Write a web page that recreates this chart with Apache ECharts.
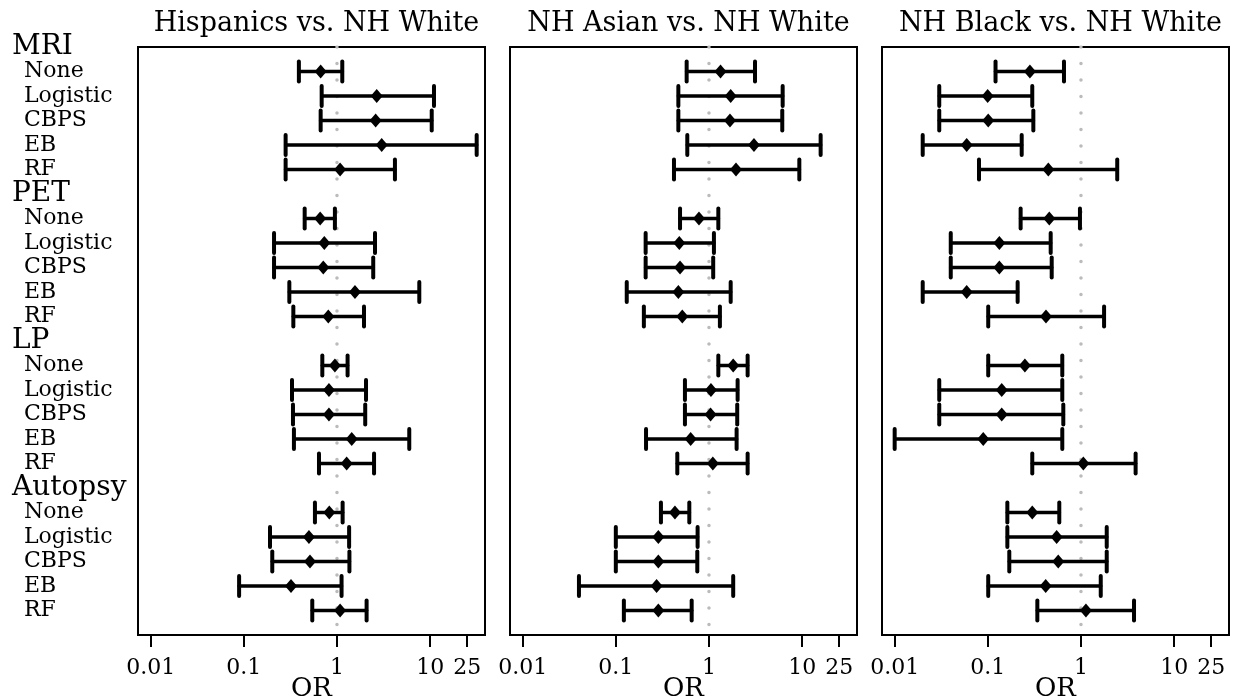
<!DOCTYPE html>
<html>
<head>
<meta charset="utf-8">
<script src="https://cdn.jsdelivr.net/npm/echarts@6/dist/echarts.min.js"></script>
<style>html,body{margin:0;padding:0;background:#fff}#c{width:1233px;height:698px}</style>
</head>
<body>
<div id="c"></div>
<script>
var groups = ['MRI', 'PET', 'LP', 'Autopsy'];
var methods = ['None', 'Logistic', 'CBPS', 'EB', 'RF'];
var panelTitles = ['Hispanics vs. NH White', 'NH Asian vs. NH White', 'NH Black vs. NH White'];
var tickValues = [0.01, 0.1, 1, 10, 25];
var tickLabels = ['0.01', '0.1', '1', '10', '25'];
var refValue = 1;

// order: MRI(None,Logistic,CBPS,EB,RF), PET(...), LP(...), Autopsy(...)
var hispLow = [0.39, 0.685, 0.668, 0.281, 0.281,  0.45, 0.211, 0.211, 0.308, 0.34,  0.696, 0.329, 0.337, 0.345, 0.641,  0.58, 0.191, 0.202, 0.089, 0.543];
var hispEst = [0.668, 2.67, 2.60, 3.02, 1.08,  0.66, 0.731, 0.713, 1.56, 0.807,  0.95, 0.82, 0.82, 1.44, 1.27,  0.827, 0.50, 0.513, 0.321, 1.08];
var hispUp  = [1.14, 11.0, 10.4, 31.6, 4.19,  0.95, 2.56, 2.45, 7.65, 1.95,  1.30, 2.05, 2.01, 5.97, 2.50,  1.15, 1.35, 1.36, 1.12, 2.08];

var asianLow = [0.576, 0.469, 0.469, 0.585, 0.421,  0.489, 0.209, 0.209, 0.131, 0.20,  1.26, 0.552, 0.552, 0.211, 0.457,  0.305, 0.10, 0.10, 0.0402, 0.122];
var asianEst = [1.33, 1.71, 1.68, 3.04, 1.95,  0.781, 0.48, 0.489, 0.469, 0.517,  1.82, 1.05, 1.04, 0.636, 1.10,  0.431, 0.286, 0.286, 0.274, 0.286];
var asianUp  = [3.12, 6.18, 6.12, 15.8, 9.33,  1.26, 1.13, 1.11, 1.71, 1.31,  2.60, 2.03, 2.01, 1.98, 2.60,  0.615, 0.755, 0.749, 1.82, 0.652];

var blackLow = [0.121, 0.0301, 0.0301, 0.020, 0.0804,  0.225, 0.040, 0.040, 0.020, 0.101,  0.101, 0.0301, 0.0301, 0.010, 0.30,  0.162, 0.162, 0.17, 0.101, 0.34];
var blackEst = [0.283, 0.0996, 0.101, 0.0593, 0.446,  0.457, 0.133, 0.133, 0.0593, 0.421,  0.25, 0.141, 0.141, 0.0893, 1.06,  0.30, 0.548, 0.57, 0.418, 1.13];
var blackUp  = [0.657, 0.30, 0.308, 0.231, 2.45,  0.975, 0.473, 0.485, 0.209, 1.77,  0.63, 0.63, 0.646, 0.63, 3.86,  0.585, 1.89, 1.89, 1.63, 3.71];

var FONT = 'DejaVu Serif';

// row labels: header then methods
var rowLabels = [];
var rowIsHeader = [];
groups.forEach(function (g) {
  rowLabels.push(g); rowIsHeader.push(true);
  methods.forEach(function (m) { rowLabels.push(m); rowIsHeader.push(false); });
});
function rowOf(k) { // k: index 0..19 in data arrays
  return Math.floor(k / methods.length) * (methods.length + 1) + 1 + (k % methods.length);
}

var panels = [[hispLow, hispEst, hispUp], [asianLow, asianEst, asianUp], [blackLow, blackEst, blackUp]];
var lefts = [138, 510, 882];
var W = 347, TOP = 47, H = 588;
var xmin = Math.pow(10, -2.136), xmax = Math.pow(10, 1.589);

var option = {
  animation: false,
  backgroundColor: '#fff',
  title: [], grid: [], xAxis: [], yAxis: [], series: []
};

function labelFor(v) {
  for (var j = 0; j < tickValues.length; j++) if (Math.abs(tickValues[j] - v) / tickValues[j] < 1e-6) return tickLabels[j];
  return '';
}
function baseY(gi) {
  return {
    type: 'value', gridIndex: gi, position: 'left', offset: 0, inverse: true, min: 0, max: 24, interval: 1,
    axisLine: { show: false }, axisTick: { show: false }, splitLine: { show: false }
  };
}

panels.forEach(function (p, pi) {
  option.title.push({
    text: panelTitles[pi], left: lefts[pi] + W / 2, top: 5, textAlign: 'center',
    textStyle: { fontFamily: FONT, fontSize: 27, fontWeight: 'normal', color: '#000' }
  });
  option.grid.push({
    left: lefts[pi], top: TOP, width: W, height: H, show: true, borderColor: '#000', borderWidth: 2,
    backgroundColor: 'transparent', containLabel: false, outerBoundsMode: 'none'
  });
  option.xAxis.push({
    type: 'log', logBase: 10, gridIndex: pi, min: xmin, max: xmax, position: 'bottom',
    name: 'OR', nameLocation: 'middle', nameGap: 41, nameMoveOverlap: false,
    nameTextStyle: { fontFamily: FONT, fontSize: 26, color: '#000', lineHeight: 26 },
    axisLine: { show: false, onZero: false },
    axisTick: { show: true, inside: false, length: 12, customValues: tickValues, lineStyle: { color: '#000', width: 2 } },
    axisLabel: { customValues: tickValues, margin: 22, fontFamily: FONT, fontSize: 22, color: '#000', formatter: labelFor, hideOverlap: false },
    splitLine: { show: false }
  });
  var y = baseY(pi);
  if (pi === 0) {
    // method labels (indented)
    y.axisLabel = {
      show: true, align: 'left', margin: 114, showMinLabel: false, showMaxLabel: false,
      fontFamily: FONT, fontSize: 22, color: '#000', lineHeight: 18,
      formatter: function (v) { var i = Math.round(v); return (i >= 0 && i < rowLabels.length && !rowIsHeader[i]) ? rowLabels[i] : ''; }
    };
  } else {
    y.axisLabel = { show: false };
  }
  option.yAxis.push(y);

  // reference dotted line
  option.series.push({
    type: 'line', xAxisIndex: pi, yAxisIndex: pi, symbol: 'none', silent: true,
    data: [[refValue, 0], [refValue, 24]],
    lineStyle: { color: '#bbbbbb', width: 3.5, type: [0.1, 16.4], cap: 'round' }, z: 1
  });

  var data = [];
  for (var k = 0; k < p[0].length; k++) data.push([rowOf(k), p[0][k], p[1][k], p[2][k]]);

  option.series.push({
    type: 'custom', xAxisIndex: pi, yAxisIndex: pi, z: 3,
    encode: { x: [1, 2, 3], y: 0 },
    data: data,
    renderItem: function (params, api) {
      var r = api.value(0);
      var a = api.coord([api.value(1), r]);
      var b = api.coord([api.value(3), r]);
      var c = api.coord([api.value(2), r]);
      var ch = 10;
      var st = { stroke: '#000', lineWidth: 3.5, lineCap: 'round' };
      var st2 = { stroke: '#000', lineWidth: 4, lineCap: 'round' };
      return {
        type: 'group', children: [
          { type: 'line', shape: { x1: a[0], y1: a[1], x2: b[0], y2: b[1] }, style: st },
          { type: 'line', shape: { x1: a[0], y1: a[1] - ch, x2: a[0], y2: a[1] + ch }, style: st2 },
          { type: 'line', shape: { x1: b[0], y1: b[1] - ch, x2: b[0], y2: b[1] + ch }, style: st2 },
          { type: 'polygon', shape: { points: [[c[0], c[1] - 7], [c[0] + 6, c[1]], [c[0], c[1] + 7], [c[0] - 6, c[1]]] }, style: { fill: '#000' } }
        ]
      };
    }
  });
});

// group header labels on a second y-axis of the first grid
var yh = baseY(0);
yh.axisLabel = {
  show: true, align: 'left', margin: 126, showMinLabel: true, showMaxLabel: false,
  fontFamily: FONT, fontSize: 28, color: '#000', lineHeight: 22,
  formatter: function (v) { var i = Math.round(v); return (i >= 0 && i < rowLabels.length && rowIsHeader[i]) ? rowLabels[i] : ''; }
};
option.yAxis.push(yh);

var chart = echarts.init(document.getElementById('c'));
chart.setOption(option);
</script>
</body>
</html>
